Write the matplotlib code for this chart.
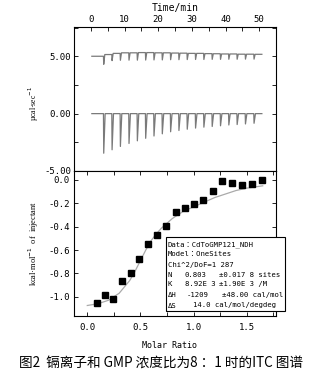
import numpy as np
import matplotlib
matplotlib.use("Agg")
import matplotlib.pyplot as plt
from matplotlib.ticker import MultipleLocator, FormatStrFormatter
from matplotlib.patches import Rectangle

# ---------------- data ----------------
inj_time = [3.75, 6.23, 8.70, 11.26, 13.74, 16.21, 18.68, 21.15, 23.62, 26.09,
            28.56, 31.03, 33.50, 35.97, 38.44, 40.91, 43.38, 45.85, 48.40]
peak_depth = [-3.45, -3.15, -2.86, -2.60, -2.37, -2.15, -1.95, -1.76, -1.58, -1.47,
              -1.36, -1.26, -1.18, -1.12, -1.06, -0.99, -0.95, -0.90, -0.84]
ref_level = [5.15, 5.25, 5.30, 5.30, 5.32, 5.32, 5.30, 5.30, 5.28, 5.27,
             5.25, 5.25, 5.23, 5.22, 5.20, 5.20, 5.18, 5.18, 5.17]
ref_dip = [4.30, 4.62, 4.65, 4.66, 4.66, 4.67, 4.68, 4.68, 4.70, 4.70,
           4.71, 4.72, 4.72, 4.73, 4.73, 4.74, 4.74, 4.75, 4.75]
trace_start, trace_end = 0.3, 50.8
ref_start_level = 5.0

molar_ratio = [0.088, 0.166, 0.245, 0.330, 0.410, 0.490, 0.574, 0.660, 0.744, 0.830,
               0.916, 1.004, 1.092, 1.183, 1.270, 1.362, 1.459, 1.553, 1.644]
heat = [-1.057, -0.986, -1.020, -0.866, -0.794, -0.680, -0.549, -0.474, -0.394, -0.277,
        -0.237, -0.206, -0.169, -0.094, -0.009, -0.023, -0.043, -0.031, -0.003]
fit_x = [0.0, 0.1, 0.2, 0.3, 0.4, 0.45, 0.5, 0.55, 0.6, 0.65, 0.7, 0.8, 0.9, 1.0,
         1.1, 1.2, 1.3, 1.4, 1.5, 1.65]
fit_y = [-1.075, -1.06, -1.03, -0.97, -0.86, -0.78, -0.69, -0.60, -0.52, -0.46,
         -0.41, -0.33, -0.27, -0.23, -0.19, -0.15, -0.12, -0.09, -0.07, -0.05]

box_lines = [
    ("Data：CdToGMP121_NDH",),
    ("Model：OneSites",),
    ("Chi^2/DoF=1 287",),
    ("N", "0.803", "±0.017 8 sites"),
    ("K", "8.92E 3", "±1.90E 3 /M"),
    ("ΔH", "-1209", "±48.00 cal/mol"),
    ("ΔS", "14.0 cal/mol/degdeg"),
]
caption = "图2  镉离子和 GMP 浓度比为8 ：1 时的ITC 图谱"

# ---------------- figure ----------------
W, H = 328, 373
fig = plt.figure(figsize=(W / 100, H / 100), dpi=100)
mono = ["DejaVu Sans Mono", "Noto Sans CJK JP"]
serif = ["Liberation Serif", "DejaVu Serif"]

def fx(px):
    return px / W

def fy(py):
    return 1 - py / H

ax1 = fig.add_axes([fx(74), fy(171), fx(276) - fx(74), fy(27) - fy(171)])
ax2 = fig.add_axes([fx(74), fy(316), fx(276) - fx(74), fy(171) - fy(316)])

# build raw traces from injection arrays
tx, ty = [trace_start], [0.0]
rx, ry = [trace_start], [ref_start_level]
prev = ref_start_level
for t, d, lv, dp in zip(inj_time, peak_depth, ref_level, ref_dip):
    tx += [t, t + 0.08, t + 0.5]
    ty += [0.0, d, 0.0]
    rx += [t, t + 0.08, t + 0.4]
    ry += [prev, dp, lv]
    prev = lv
tx.append(trace_end); ty.append(0.0)
rx.append(trace_end); ry.append(prev)

trace_col = "#7a7a7a"
ax1.plot(tx, ty, color=trace_col, lw=0.9)
ax1.plot(rx, ry, color=trace_col, lw=0.9)
ax1.set_xlim(-5, 55)
ax1.set_ylim(-5, 7.55)
ax1.xaxis.tick_top()
ax1.xaxis.set_label_position("top")
ax1.xaxis.set_major_locator(MultipleLocator(10))
ax1.xaxis.set_minor_locator(MultipleLocator(5))
ax1.yaxis.set_major_locator(MultipleLocator(5))
ax1.yaxis.set_minor_locator(MultipleLocator(2.5))
ax1.yaxis.set_major_formatter(FormatStrFormatter("%.2f"))
ax1.tick_params(axis="both", which="both", direction="in", length=3, width=0.6,
                labelsize=6.5, pad=2, right=True)
ax1.tick_params(axis="x", which="both", bottom=False, top=True)
ax1.set_xlabel("Time/min", fontsize=7, family=mono, labelpad=3)
for lab in ax1.get_xticklabels() + ax1.get_yticklabels():
    lab.set_family(mono)
ax1.text(-0.2, 0.47, "µcal·sec$^{-1}$", transform=ax1.transAxes, rotation=90,
         ha="center", va="center", fontsize=5.5, family=serif)

ax2.plot(fit_x, fit_y, color="#aaaaaa", lw=0.9)
ax2.plot(molar_ratio, heat, ls="none", marker="s", ms=3.8, color="black")
ax2.set_xlim(-0.125, 1.775)
ax2.set_ylim(-1.165, 0.077)
ax2.xaxis.set_major_locator(MultipleLocator(0.5))
ax2.xaxis.set_minor_locator(MultipleLocator(0.25))
ax2.xaxis.set_major_formatter(FormatStrFormatter("%.1f"))
ax2.yaxis.set_major_locator(MultipleLocator(0.2))
ax2.yaxis.set_minor_locator(MultipleLocator(0.1))
ax2.yaxis.set_major_formatter(FormatStrFormatter("%.1f"))
ax2.tick_params(axis="both", which="both", direction="in", length=3, width=0.6,
                labelsize=6.5, pad=3, top=True, right=True)
ax2.tick_params(axis="y", which="minor", length=0)
ax2.tick_params(axis="x", which="major", pad=5)
for lab in ax2.get_xticklabels() + ax2.get_yticklabels():
    lab.set_family(mono)
ax2.text(-0.2, 0.5, "kcal·mol$^{-1}$  of  injectant", transform=ax2.transAxes,
         rotation=90, ha="center", va="center", fontsize=6, family=serif)

for ax in (ax1, ax2):
    for s in ax.spines.values():
        s.set_linewidth(0.8)

# parameter box (figure coords)
fig.patches.append(Rectangle((fx(166), fy(311)), fx(285) - fx(166), fy(237) - fy(311),
                             transform=fig.transFigure, facecolor="white",
                             edgecolor="black", lw=0.8, zorder=5))
line_y = [245, 254.5, 265, 275, 284, 295, 305.5]
cols = {3: [168, 185, 219], 4: [168, 185, 219], 5: [168, 187, 222], 6: [168, 193]}
for i, (row, yy) in enumerate(zip(box_lines, line_y)):
    xs = cols.get(i, [168])
    for txt, xx in zip(row, xs):
        fig.text(fx(xx), fy(yy), txt, fontsize=5.2, family=mono, ha="left",
                 va="center", zorder=6)

fig.text(fx(170), fy(346), "Molar Ratio", fontsize=6, family=mono, ha="center", va="center")
fig.text(fx(161), fy(363), caption, fontsize=9.8,
         family=["Noto Sans CJK SC", "DejaVu Sans"], ha="center", va="center")

fig.savefig("out.png", dpi=100)
